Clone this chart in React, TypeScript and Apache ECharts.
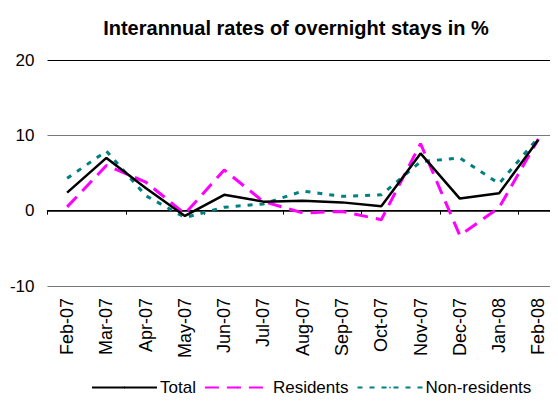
import React, { useEffect, useRef } from "react";
import * as echarts from "echarts";

const categories = [
  "Feb-07", "Mar-07", "Apr-07", "May-07", "Jun-07", "Jul-07", "Aug-07",
  "Sep-07", "Oct-07", "Nov-07", "Dec-07", "Jan-08", "Feb-08",
];
const total = [2.4, 7.0, 3.0, -0.7, 2.1, 1.2, 1.3, 1.1, 0.6, 7.6, 1.6, 2.3, 9.4];
const residents = [0.5, 6.0, 3.8, -0.4, 5.4, 1.2, -0.3, -0.1, -1.2, 8.9, -3.3, 0.4, 9.5];
const nonResidents = [4.3, 7.9, 2.0, -0.9, 0.45, 0.9, 2.6, 1.9, 2.1, 6.5, 7.0, 3.6, 9.7];
const yTicks = { min: -10, max: 20, interval: 10 };

const FONT = "'Liberation Sans', Arial, sans-serif";

export default function App() {
  const ref = useRef<HTMLDivElement>(null);
  useEffect(() => {
    if (!ref.current) return;
    const chart = echarts.init(ref.current, undefined, { renderer: "svg" });
    chart.setOption({
      animation: false,
      title: {
        text: "Interannual rates of overnight stays in %",
        left: 291,
        textAlign: "center",
        top: 13,
        textStyle: { fontFamily: FONT, fontSize: 20, fontWeight: "bold", color: "#000" },
      },
      legend: {
        bottom: 0,
        left: 86,
        itemWidth: 65,
        itemHeight: 2,
        itemGap: 8,
        textStyle: { fontFamily: FONT, fontSize: 17, color: "#000", padding: [0, 0, 0, -2] },
        data: ["Total", "Residents", "Non-residents"],
      },
      grid: { left: 47.5, right: -3, top: 60, bottom: 115, containLabel: false },
      xAxis: [
        {
          type: "category",
          data: categories,
          boundaryGap: true,
          axisLine: { show: false, onZero: false },
          axisTick: { show: false },
          axisLabel: {
            rotate: 90,
            margin: 12,
            fontFamily: FONT,
            fontSize: 18,
            color: "#000",
          },
        },
        {
          type: "category",
          data: categories,
          boundaryGap: true,
          position: "bottom",
          axisLine: { show: true, onZero: true, lineStyle: { color: "#000", width: 1.5 } },
          axisTick: { show: true, length: 4, lineStyle: { color: "#000" } },
          axisLabel: { show: false },
        },
      ],
      yAxis: {
        type: "value",
        min: yTicks.min,
        max: yTicks.max,
        interval: yTicks.interval,
        axisLine: { show: false },
        axisTick: { show: false },
        axisLabel: { margin: 13, fontFamily: FONT, fontSize: 17, color: "#000" },
        splitLine: { lineStyle: { color: ["#777", "#000", "#777", "#000"], width: 1.2 } },
      },
      series: [
        {
          name: "Total",
          type: "line",
          data: total,
          symbol: "none",
          lineStyle: { color: "#000", width: 2.5, type: "solid" },
          itemStyle: { color: "#000" },
          z: 4,
        },
        {
          name: "Residents",
          type: "line",
          data: residents,
          symbol: "none",
          lineStyle: { color: "#FF00FF", width: 3, type: [14, 8] },
          itemStyle: { color: "#FF00FF" },
          z: 3,
        },
        {
          name: "Non-residents",
          type: "line",
          data: nonResidents,
          symbol: "none",
          lineStyle: { color: "#008080", width: 3, type: [5, 7] },
          itemStyle: { color: "#008080" },
          z: 2,
        },
      ],
    });
    return () => chart.dispose();
  }, []);
  return <div ref={ref} style={{ width: 558, height: 401, margin: -8 }} />;
}
